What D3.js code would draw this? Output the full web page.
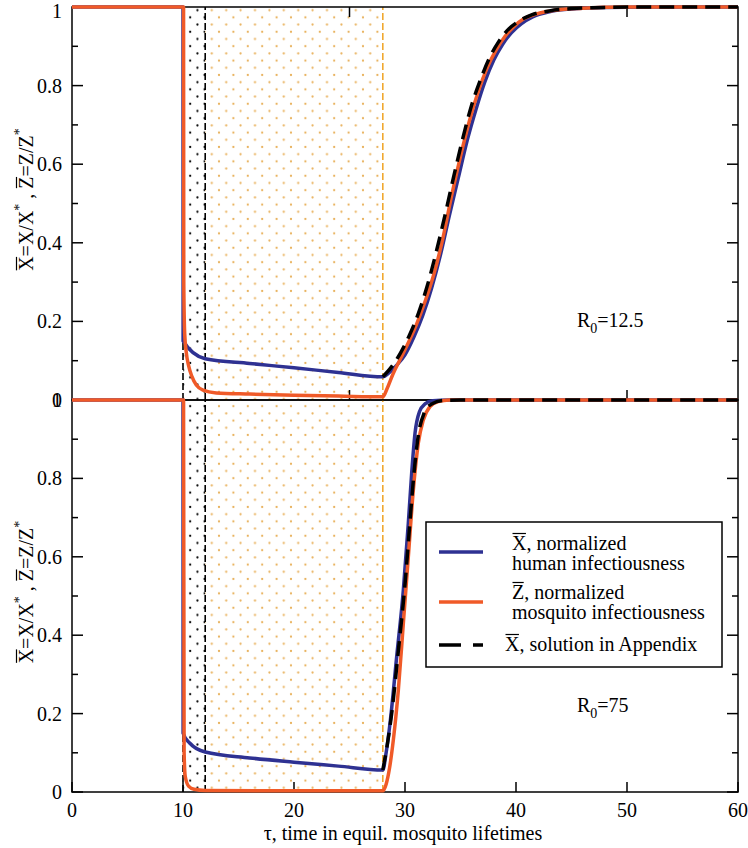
<!DOCTYPE html>
<html><head><meta charset="utf-8">
<script src="https://cdn.jsdelivr.net/npm/d3@7"></script>
<style>html,body{margin:0;padding:0;background:#fff}svg{display:block}</style>
</head><body><svg id="c" width="748" height="848" font-family="'Liberation Serif', 'DejaVu Serif', serif"></svg>
<script>
// ---------- data ----------
const xDomain = [0, 60];
const xTicksTopPanel = [25, 50];
const xTicksBottomPanel = [0, 10, 20, 30, 40, 50, 60];
const yMajorTicks = [0, 0.2, 0.4, 0.6, 0.8, 1];
const yMinorTicks = [0.1, 0.3, 0.5, 0.7, 0.9];
const yTickLabelsTop = ["0", "0.2", "0.4", "0.6", "0.8", "1"];
const yTickLabelsBottom = ["0", "0.2", "0.4", "0.6", "0.8", "1"];
const phaseBounds = [10, 12, 28];   // start, end of black-dot phase, end of orange-dot phase
const shortMarkerTop = 0.15, shortMarkerBottom = 0.15;

// R0 = 12.5 (top)
const topBlue = [[0,1],[10,1],[10.01,0.15],[12,0.105],[16,0.093],[20,0.082],[24,0.07],[28,0.059],[28.6,0.07],[29.3,0.09],[30,0.115],[30.8,0.16],[31.6,0.215],[32.4,0.285],[33.2,0.37],[34,0.47],[34.8,0.565],[35.6,0.66],[36.4,0.74],[37.2,0.81],[38,0.865],[38.8,0.905],[39.6,0.935],[40.5,0.958],[41.5,0.975],[43,0.988],[45,0.995],[48,0.999],[52,1],[60,1]];
const topOrange = [[0,1],[10.05,1],[10.07,0.3],[10.15,0.17],[10.3,0.12],[10.5,0.088],[10.8,0.06],[11.2,0.038],[11.8,0.025],[13,0.018],[16,0.015],[20,0.012],[24,0.01],[28,0.008],[28.4,0.03],[28.9,0.065],[29.5,0.1],[30.2,0.14],[31,0.19],[31.8,0.25],[32.6,0.32],[33.4,0.41],[34.2,0.52],[35,0.62],[35.8,0.71],[36.6,0.785],[37.4,0.845],[38.2,0.89],[39,0.925],[39.8,0.95],[40.7,0.97],[41.8,0.982],[43.5,0.992],[46,0.997],[50,1],[60,1]];
const topAppendix = [[28,0.059],[28.8,0.085],[29.6,0.12],[30.4,0.165],[31.2,0.22],[32,0.29],[32.8,0.375],[33.6,0.47],[34.4,0.57],[35.2,0.665],[36,0.75],[36.8,0.815],[37.6,0.87],[38.4,0.91],[39.2,0.94],[40.2,0.963],[41.4,0.98],[43,0.99],[45,0.996],[48,0.999],[52,1],[60,1]];

// R0 = 75 (bottom)
const botBlue = [[0,1],[10,1],[10.01,0.15],[10.6,0.125],[12,0.102],[16,0.087],[20,0.076],[24,0.066],[28,0.056],[28.3,0.1],[28.65,0.175],[29.25,0.345],[29.85,0.515],[30.3,0.686],[30.6,0.813],[30.9,0.915],[31.3,0.97],[31.8,0.99],[32.5,0.998],[34,1],[60,1]];
const botOrange = [[0,1],[10.05,1],[10.1,0.1],[10.2,0.04],[10.5,0.015],[11,0.007],[12,0.004],[20,0.003],[28,0.003],[28.3,0.02],[28.6,0.06],[28.95,0.133],[29.4,0.26],[29.85,0.43],[30.3,0.6],[30.75,0.77],[31.2,0.89],[31.65,0.949],[32.25,0.983],[33,0.996],[34,1],[60,1]];
const botAppendix = [[28,0.056],[28.4,0.12],[28.8,0.2],[29.4,0.36],[30,0.53],[30.45,0.69],[30.8,0.81],[31.2,0.91],[31.7,0.965],[32.4,0.99],[33.5,0.999],[35,1],[60,1]];

const legendLabels = [["X, normalized","human infectiousness"],["Z, normalized","mosquito infectiousness"],["X, solution in Appendix"]];
const r0Labels = ["12.5", "75"];
const xTitle = "τ, time in equil. mosquito lifetimes";

// ---------- styles ----------
const BLUE = "#2e3192", ORANGE = "#f05a28", DOTOR = "#e4a23c", VORANGE = "#f0a830";
const FS = 20;

const svg = d3.select("#c");
const x = d3.scaleLinear().domain(xDomain).range([72, 738]);
const yTop = d3.scaleLinear().domain([0,1]).range([400, 7]);
const yBot = d3.scaleLinear().domain([0,1]).range([792, 400]);

// patterns
const defs = svg.append("defs");
function dotPattern(id, color, r, op){
  const p = defs.append("pattern").attr("id", id).attr("patternUnits","userSpaceOnUse")
    .attr("width", 14.4).attr("height", 14.4).attr("x", x(10)+7.2).attr("y", 3);
  [[0,0],[14.4,0],[0,14.4],[14.4,14.4],[7.2,7.2]].forEach(c => {
    p.append("circle").attr("cx",c[0]).attr("cy",c[1]).attr("r",r).attr("fill",color).attr("opacity",op);
  });
}
dotPattern("pBlack", "#000", 1.1, 1);
dotPattern("pOrange", DOTOR, 1.1, 0.85);

const panels = [
  {y: yTop, blue: topBlue, orange: topOrange, dash: topAppendix, xt: xTicksTopPanel, xtTop: true, labels: yTickLabelsTop, r0: r0Labels[0], r0y: 327, marker: shortMarkerTop},
  {y: yBot, blue: botBlue, orange: botOrange, dash: botAppendix, xt: xTicksBottomPanel, xtTop: false, labels: yTickLabelsBottom, r0: r0Labels[1], r0y: 712, marker: shortMarkerBottom}
];

panels.forEach((P, pi) => {
  const g = svg.append("g");
  const y = P.y;
  // phase regions
  g.append("rect").attr("x", x(phaseBounds[0])).attr("width", x(phaseBounds[1]) - x(phaseBounds[0]))
    .attr("y", y(1)).attr("height", y(0) - y(1)).attr("fill", "url(#pBlack)");
  g.append("rect").attr("x", x(phaseBounds[1])).attr("width", x(phaseBounds[2]) - x(phaseBounds[1]))
    .attr("y", y(1)).attr("height", y(0) - y(1)).attr("fill", "url(#pOrange)");
  // vertical markers
  g.append("line").attr("x1", x(phaseBounds[0])).attr("x2", x(phaseBounds[0])).attr("y1", y(0)).attr("y2", y(P.marker))
    .attr("stroke", "#000").attr("stroke-width", 1.6).attr("stroke-dasharray", "7,3");
  g.append("line").attr("x1", x(phaseBounds[1])).attr("x2", x(phaseBounds[1])).attr("y1", y(0)).attr("y2", y(1))
    .attr("stroke", "#000").attr("stroke-width", 1.6).attr("stroke-dasharray", "7,3");
  g.append("line").attr("x1", x(phaseBounds[2])).attr("x2", x(phaseBounds[2])).attr("y1", y(0)).attr("y2", y(1))
    .attr("stroke", VORANGE).attr("stroke-width", 1.6).attr("stroke-dasharray", "7,3");

  // frame
  g.append("rect").attr("x", x(0)).attr("y", y(1)).attr("width", x(60) - x(0)).attr("height", y(0) - y(1))
    .attr("fill", "none").attr("stroke", "#000").attr("stroke-width", 1.5);

  // y ticks (left and right, inward)
  yMajorTicks.forEach(v => {
    g.append("line").attr("x1", x(0)).attr("x2", x(0)+11).attr("y1", y(v)).attr("y2", y(v)).attr("stroke","#000").attr("stroke-width",1.5);
    g.append("line").attr("x1", x(60)).attr("x2", x(60)-11).attr("y1", y(v)).attr("y2", y(v)).attr("stroke","#000").attr("stroke-width",1.5);
  });
  yMinorTicks.forEach(v => {
    g.append("line").attr("x1", x(0)).attr("x2", x(0)+6).attr("y1", y(v)).attr("y2", y(v)).attr("stroke","#000").attr("stroke-width",1.5);
    g.append("line").attr("x1", x(60)).attr("x2", x(60)-6).attr("y1", y(v)).attr("y2", y(v)).attr("stroke","#000").attr("stroke-width",1.5);
  });
  // x ticks
  P.xt.forEach(t => {
    g.append("line").attr("x1", x(t)).attr("x2", x(t)).attr("y1", y(0)).attr("y2", y(0)-10).attr("stroke","#000").attr("stroke-width",1.5);
    if (P.xtTop) g.append("line").attr("x1", x(t)).attr("x2", x(t)).attr("y1", y(1)).attr("y2", y(1)+10).attr("stroke","#000").attr("stroke-width",1.5);
  });
  // y tick labels
  yMajorTicks.forEach((v, i) => {
    g.append("text").attr("x", 62).attr("y", Math.max(y(v) + 7, 18)).attr("text-anchor", "end").attr("font-size", FS).text(P.labels[i]);
  });

  // curves
  const line = d3.line().x(d => x(d[0])).y(d => y(d[1])).curve(d3.curveMonotoneX);
  g.append("path").attr("d", line(P.blue)).attr("fill","none").attr("stroke", BLUE).attr("stroke-width", 3.5).attr("stroke-linejoin","round");
  g.append("path").attr("d", line(P.orange)).attr("fill","none").attr("stroke", ORANGE).attr("stroke-width", 3.5).attr("stroke-linejoin","round");
  g.append("path").attr("d", line(P.dash)).attr("fill","none").attr("stroke", "#000").attr("stroke-width", 3.5).attr("stroke-dasharray","15,8");

  // R0 label
  const t = g.append("text").attr("x", 577).attr("y", P.r0y).attr("font-size", FS);
  t.append("tspan").text("R");
  t.append("tspan").attr("font-size", 14).attr("dy", 6).text("0");
  t.append("tspan").attr("dy", -6).text("=" + P.r0);

  // y axis title
  const cy = (y(0) + y(1)) / 2 - 4;
  const yg = g.append("g").attr("transform", `translate(33,${cy}) rotate(-90)`);
  const yt = yg.append("text").attr("x", 0).attr("y", 0).attr("text-anchor", "middle").attr("font-size", FS);
  yt.append("tspan").text("X=X/X");
  yt.append("tspan").attr("font-size", 14).attr("dy", -9).text("*");
  yt.append("tspan").attr("dy", 9).text(" , Z=Z/Z");
  yt.append("tspan").attr("font-size", 14).attr("dy", -9).text("*");
  overline(yg, yt, [0, 9]);
});

function overline(parent, textSel, idxs){
  const node = textSel.node();
  idxs.forEach(i => {
    const s = node.getStartPositionOfChar(i), e = node.getEndPositionOfChar(i);
    parent.append("line").attr("x1", s.x + 0.5).attr("x2", e.x - 0.5).attr("y1", s.y - 16.5).attr("y2", s.y - 16.5)
      .attr("stroke", "#000").attr("stroke-width", 1.2);
  });
}

// x tick labels, title
xTicksBottomPanel.forEach(t => {
  svg.append("text").attr("x", x(t)).attr("y", 817).attr("text-anchor","middle").attr("font-size", FS).text(t);
});
svg.append("text").attr("x", 403).attr("y", 840).attr("text-anchor","middle").attr("font-size", FS).text(xTitle);

// legend
const lg = svg.append("g");
lg.append("rect").attr("x", 426).attr("y", 522).attr("width", 296).attr("height", 145).attr("fill","#fff").attr("stroke","#000").attr("stroke-width",1.5);
lg.append("line").attr("x1",439).attr("x2",483).attr("y1",552).attr("y2",552).attr("stroke",BLUE).attr("stroke-width",3.5);
lg.append("line").attr("x1",439).attr("x2",483).attr("y1",602).attr("y2",602).attr("stroke",ORANGE).attr("stroke-width",3.5);
lg.append("line").attr("x1",439).attr("x2",483).attr("y1",645).attr("y2",645).attr("stroke","#000").attr("stroke-width",3.5).attr("stroke-dasharray","22,12");
const l1 = lg.append("text").attr("x",512).attr("y",550).attr("font-size",FS).text(legendLabels[0][0]);
lg.append("text").attr("x",512).attr("y",570).attr("font-size",FS).text(legendLabels[0][1]);
const l2 = lg.append("text").attr("x",512).attr("y",599).attr("font-size",FS).text(legendLabels[1][0]);
lg.append("text").attr("x",512).attr("y",619).attr("font-size",FS).text(legendLabels[1][1]);
const l3 = lg.append("text").attr("x",505).attr("y",651).attr("font-size",FS).text(legendLabels[2][0]);
overline(lg, l1, [0]); overline(lg, l2, [0]); overline(lg, l3, [0]);
</script></body></html>
